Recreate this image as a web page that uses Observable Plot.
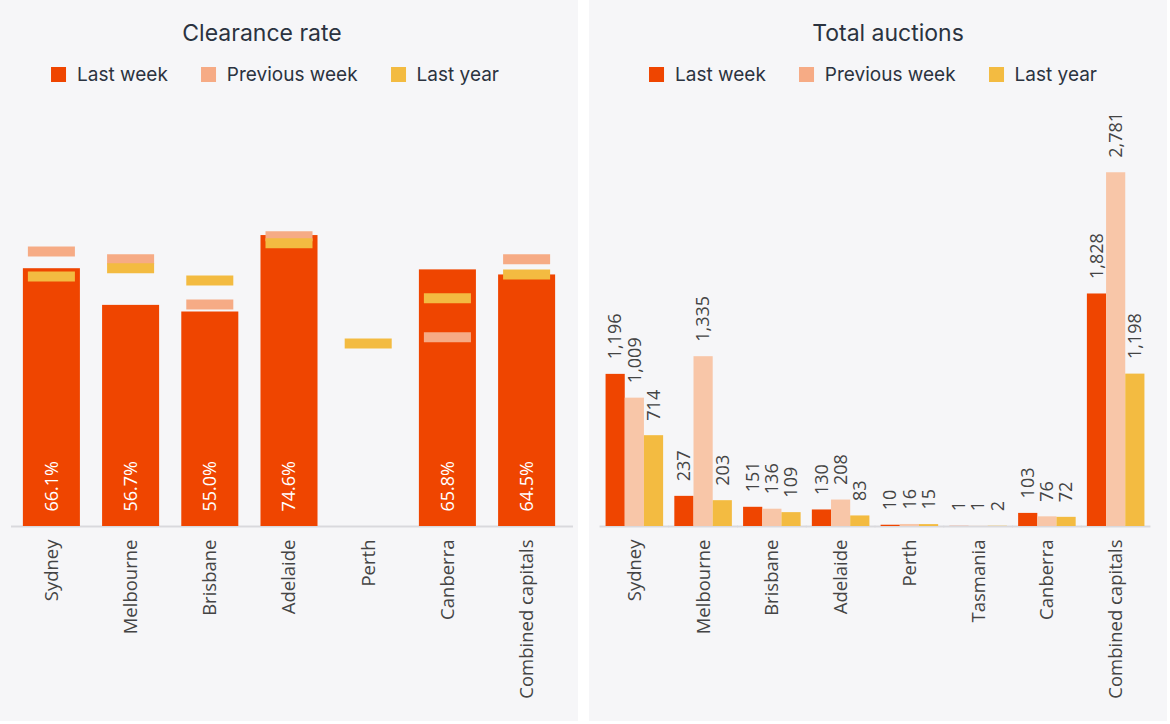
<!DOCTYPE html>
<html><head><meta charset="utf-8">
<script src="https://cdn.jsdelivr.net/npm/d3@7"></script>
<script src="https://cdn.jsdelivr.net/npm/@observablehq/plot@0.6"></script>
<style>
body{margin:0;background:#fff;width:1170px;height:724px;overflow:hidden;font-family:"Open Sans",sans-serif;position:relative}
.panel{position:absolute;top:0;width:578px;height:721px;background:#f6f6f8;}
#left{left:0}
#right{left:589px}
.title{position:absolute;top:20px;line-height:26px;transform:translateX(-50%);font-family:Inter,sans-serif;font-size:23px;color:#2b3340;white-space:nowrap;}
.legend{position:absolute;top:62px;line-height:26px;transform:translateX(-50%);display:flex;gap:33px;font-family:Inter,sans-serif;font-size:19px;color:#2b3340;white-space:nowrap;align-items:center}
.legend .sw{display:inline-block;width:15px;height:15px;margin-right:11px;vertical-align:-1px}
.chart{position:absolute;top:100px;left:0}
</style></head>
<body>
<div class="panel" id="left"><div class="title" style="left:262px">Clearance rate</div><div class="legend" style="left:275px"></div><div class="chart"></div></div>
<div class="panel" id="right"><div class="title" style="left:299px">Total auctions</div><div class="legend" style="left:284px"></div><div class="chart"></div></div>
<script>
const cities = ["Sydney","Melbourne","Brisbane","Adelaide","Perth","Canberra","Combined capitals"];
const clearanceLastWeek = [66.1,56.7,55.0,74.6,null,65.8,64.5];
const clearancePrevWeek = [70.5,68.5,56.9,74.4,null,48.5,68.5];
const clearanceLastYear = [64.1,66.2,63.1,72.6,46.9,58.5,64.6];

const auctionCities = ["Sydney","Melbourne","Brisbane","Adelaide","Perth","Tasmania","Canberra","Combined capitals"];
const auctionsLastWeek = [1196,237,151,130,10,1,103,1828];
const auctionsPrevWeek = [1009,1335,136,208,16,1,76,2781];
const auctionsLastYear = [714,203,109,83,15,2,72,1198];

const seriesNames = ["Last week","Previous week","Last year"];
const seriesColors = ["#ef4500","#f6ab85","#f3bb41"];
const auctionColors = ["#ef4500","#f8c6a8","#f3bb41"];

const fmt = d3.format(",");

function legend(sel, colors){
  const items = d3.select(sel).selectAll("div").data(seriesNames).join("div");
  items.append("span").attr("class","sw").style("background",(d,i)=>colors[i]);
  items.append("span").text(d=>d);
}
legend("#left .legend", seriesColors);
legend("#right .legend", seriesColors);

const crRows = cities.map((c,i)=>({city:c,last:clearanceLastWeek[i],prev:clearancePrevWeek[i],ly:clearanceLastYear[i]}));

const left = Plot.plot({
  width:578, height:620, marginTop:36, marginBottom:194, marginLeft:11, marginRight:11,
  style:{background:"transparent", fontFamily:"'Open Sans'", fontSize:"18.5px", color:"#444"},
  x:{domain:cities, paddingInner:0.28, paddingOuter:0.15, round:false, label:null, tickSize:0, tickPadding:13, tickRotate:-90},
  y:{domain:[0,100], axis:null},
  marks:[
    Plot.ruleY([0], {stroke:"#d9d9dd", strokeWidth:2, insetRight:-6}),
    Plot.barY(crRows.filter(d=>d.last!=null), {x:"city", y:"last", fill:seriesColors[0]}),
    Plot.tickY(crRows.filter(d=>d.prev!=null), {x:"city", y:"prev", stroke:seriesColors[1], strokeWidth:10, insetLeft:5, insetRight:5}),
    Plot.tickY(crRows.filter(d=>d.ly!=null), {x:"city", y:"ly", stroke:seriesColors[2], strokeWidth:10, insetLeft:5, insetRight:5}),
    Plot.text(crRows.filter(d=>d.last!=null), {x:"city", y:()=>0, text:d=>d.last.toFixed(1)+"%", rotate:-90, textAnchor:"start", dy:-15, fill:"white", fontSize:18})
  ]
});
document.querySelector("#left .chart").append(left);

const auRows = auctionCities.flatMap((c,i)=>[
  {city:c, series:"Last week", value:auctionsLastWeek[i]},
  {city:c, series:"Previous week", value:auctionsPrevWeek[i]},
  {city:c, series:"Last year", value:auctionsLastYear[i]}
]);

const right = Plot.plot({
  width:578, height:620, marginTop:36, marginBottom:194, marginLeft:9, marginRight:15,
  style:{background:"transparent", fontFamily:"'Open Sans'", fontSize:"18.5px", color:"#444"},
  facet:{data:auRows, x:"city", label:null},
  fx:{domain:auctionCities, paddingInner:0.163, paddingOuter:0.11, round:false, axis:"bottom", label:null, tickSize:0, tickPadding:13, tickRotate:-90},
  x:{domain:seriesNames, padding:0, round:false, axis:null},
  y:{domain:[0,3066], axis:null},
  color:{domain:seriesNames, range:auctionColors},
  marks:[
    Plot.ruleY([0], {stroke:"#d9d9dd", strokeWidth:2, insetLeft:-6, insetRight:-6}),
    Plot.barY(auRows, {x:"series", y:"value", fill:"series"}),
    Plot.text(auRows, {x:"series", y:"value", text:d=>fmt(d.value), rotate:-90, textAnchor:"start", dy:-15, fill:"#444", fontSize:18})
  ]
});
document.querySelector("#right .chart").append(right);
</script>
</body></html>
